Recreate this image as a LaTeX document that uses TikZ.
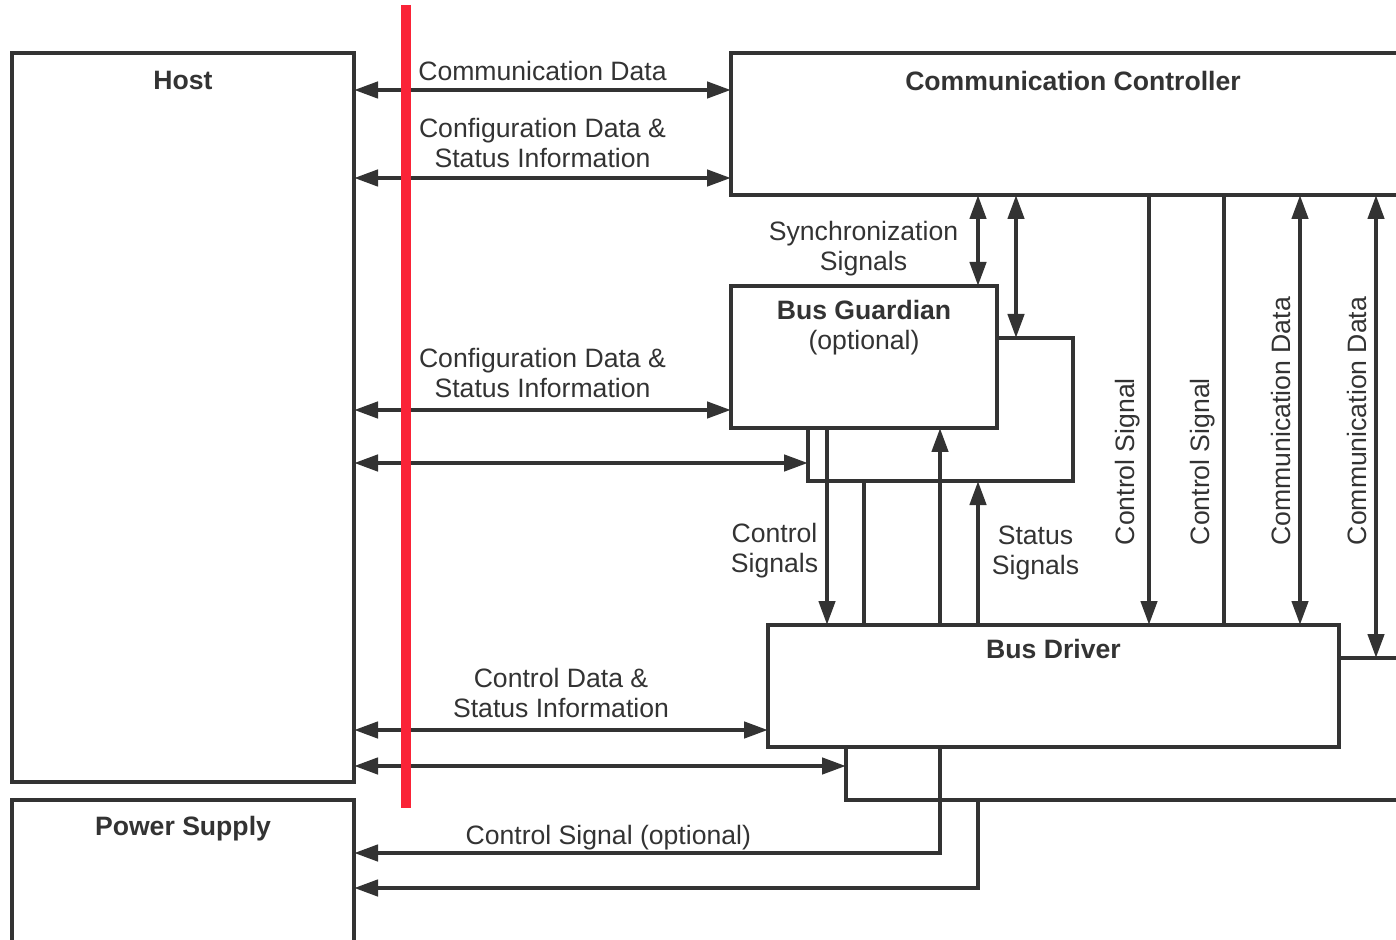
\documentclass[tikz,border=0pt]{standalone}
\usepackage{fontspec}
\setmainfont{Liberation Sans}
\usetikzlibrary{arrows.meta}
\definecolor{ink}{RGB}{51,51,51}
\definecolor{marker}{RGB}{250,35,55}

\begin{document}
\begin{tikzpicture}[x=0.5pt, y=-0.5pt,
    every node/.style={font=\fontsize{13.3}{15}\selectfont, text=ink, align=center},
    box/.style={draw=ink, line width=2pt, fill=white, outer sep=0pt, anchor=north west},
    title/.style={anchor=north, yshift=-4.5pt},
    sig/.style={draw=ink, line width=2.2pt},
    both/.style={sig, <->},
    vlabel/.style={rotate=90, anchor=south},
    >={Triangle[length=12pt,width=8pt]}]
    \useasboundingbox (0,0) rectangle (1396,940);
    \clip (0,0) rectangle (1396,940);

    \node[box, minimum width=171pt, minimum height=364.5pt, label={[title, yshift=-1pt]north:\textbf{Host}}] at (12,53)(host){};
    \node[box, minimum width=171pt, minimum height=90pt, label={[title]north:\textbf{Power Supply}}] at (12,800)(power){};
    \node[box, minimum width=342pt, minimum height=71pt, label={[title, yshift=-1pt]north:\textbf{Communication Controller}}] at (731,53)(cc){};
    \node[box, minimum width=132.5pt, minimum height=71.5pt] at (808,338)(bgport){};
    \node[box, minimum width=133pt, minimum height=71pt, label={[title, yshift=1pt]north:\textbf{Bus Guardian}\\(optional)}] at (731,286)(bg){};
    \node[box, minimum width=290pt, minimum height=71pt] at (846,658)(bdport){};
    \node[box, minimum width=285.5pt, minimum height=61pt, label={[title, yshift=1pt]north:\textbf{Bus Driver}}] at (768,625)(bd){};

    \draw[both] (host.east |- 0,90) -- node[above]{Communication Data} (cc.west |- 0,90);
    \draw[both] (host.east |- 0,178) -- node[above, yshift=0.5pt]{Configuration Data \&\\Status Information} (cc.west |- 0,178);
    \draw[both] (host.east |- 0,410) -- node[above, yshift=1.5pt]{Configuration Data \&\\Status Information} (bg.west |- 0,410);
    \draw[both] (host.east |- 0,463) -- (bgport.west |- 0,463);
    \draw[both] (host.east |- 0,730) -- node[above, yshift=1.5pt]{Control Data \&\\Status Information} (bd.west |- 0,730);
    \draw[both] (host.east |- 0,766) -- (bdport.west |- 0,766);

    \draw[both] (cc.south -| 978,0) -- node[left=5.5pt, yshift=-4pt]{Synchronization\\Signals} (bg.north -| 978,0);
    \draw[both] (cc.south -| 1016,0) -- (bgport.north -| 1016,0);
    \draw[sig, ->] (bg.south -| 827,0) -- node[pos=0.62, left]{Control\\Signals} (bd.north -| 827,0);
    \draw[sig] (bgport.south -| 864,0) -- (bd.north -| 864,0);
    \draw[sig, ->] (bd.north -| 940,0) -- (bg.south -| 940,0);
    \draw[sig, ->] (bd.north -| 978,0) -- node[right=2.5pt]{Status\\Signals} (bgport.south -| 978,0);
    \draw[sig, <-] (bd.north -| 1149,0) -- node[pos=0.38, vlabel]{Control Signal} (cc.south -| 1149,0);
    \draw[sig] (bd.north -| 1224,0) -- node[pos=0.38, vlabel]{Control Signal} (cc.south -| 1224,0);
    \draw[both] (bd.north -| 1300,0) -- node[pos=0.474, vlabel]{Communication Data} (cc.south -| 1300,0);
    \draw[both] (bdport.north -| 1376,0) -- node[pos=0.512, vlabel]{Communication Data} (cc.south -| 1376,0);

    \draw[sig, ->] (bd.south -| 940,0) |- node[pos=0.783, above, yshift=-3pt]{Control Signal (optional)} (power.east |- 0,853);
    \draw[sig, ->] (bdport.south -| 978,0) |- (power.east |- 0,888);

    \draw[marker, line width=5pt] (406,5) -- (406,808);
\end{tikzpicture}
\end{document}
